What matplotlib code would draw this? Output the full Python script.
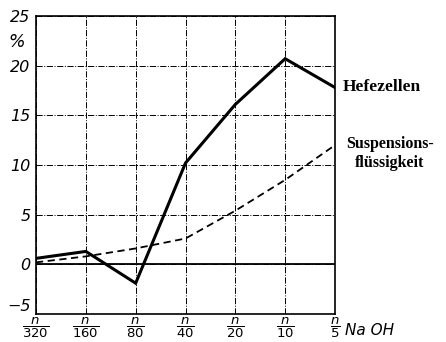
import numpy as np
import matplotlib.pyplot as plt

# Konzentrationen NaOH (n/320 ... n/5)
nenner = ['320', '160', '80', '40', '20', '10', '5']
hefezellen = [0.6, 1.3, -1.9, 10.2, 16.1, 20.7, 17.8]
suspension = [0.2, 0.8, 1.6, 2.6, 5.4, 8.5, 12.0]
y_ticks = [-5, 0, 5, 10, 15, 20, 25]

x = np.arange(len(nenner))

fig = plt.figure(figsize=(4.46, 3.42), dpi=100)
ax = fig.add_axes([36/446, 28/342, 299/446, 298/342])

ax.plot(x, hefezellen, color='k', lw=2.2, solid_joinstyle='miter')
ax.plot(x, suspension, color='k', lw=1.3, ls=(0, (4, 2.5)))
ax.axhline(0, color='k', lw=1.3)

ax.set_xlim(0, 6)
ax.set_ylim(-5, 25)
ax.set_yticks(y_ticks)
ax.set_xticks(x)
ax.grid(True, color='k', lw=0.7, ls='-.')
for s in ax.spines.values():
    s.set_linewidth(1.2)
ax.tick_params(length=0, pad=4)
ax.set_yticklabels([str(v).replace('-', '\u2212') for v in y_ticks],
                   fontsize=11.5, style='italic')
# -5 sitzt etwas hoeher
lab = ax.get_yticklabels()[0]
lab.set_va('bottom')
ax.set_xticklabels([r'$\dfrac{n}{%s}$' % d for d in nenner], fontsize=9.5)
ax.tick_params(axis='x', pad=1)

ax.text(-0.22, 22.4, '%', fontsize=12.5, style='italic', ha='right', va='center')
ax.text(6.2, -6.7, 'Na OH', fontsize=11, style='italic', ha='left', va='center')

ax.text(6.15, 17.9, 'Hefezellen', fontsize=12.5, fontweight='bold',
        family='Liberation Serif', ha='left', va='center')
ax.text(7.1, 11.2, 'Suspensions-\nflüssigkeit', fontsize=11.5, fontweight='bold',
        family='Liberation Serif', ha='center', va='center', linespacing=1.25)

fig.savefig('out.png', dpi=100)
